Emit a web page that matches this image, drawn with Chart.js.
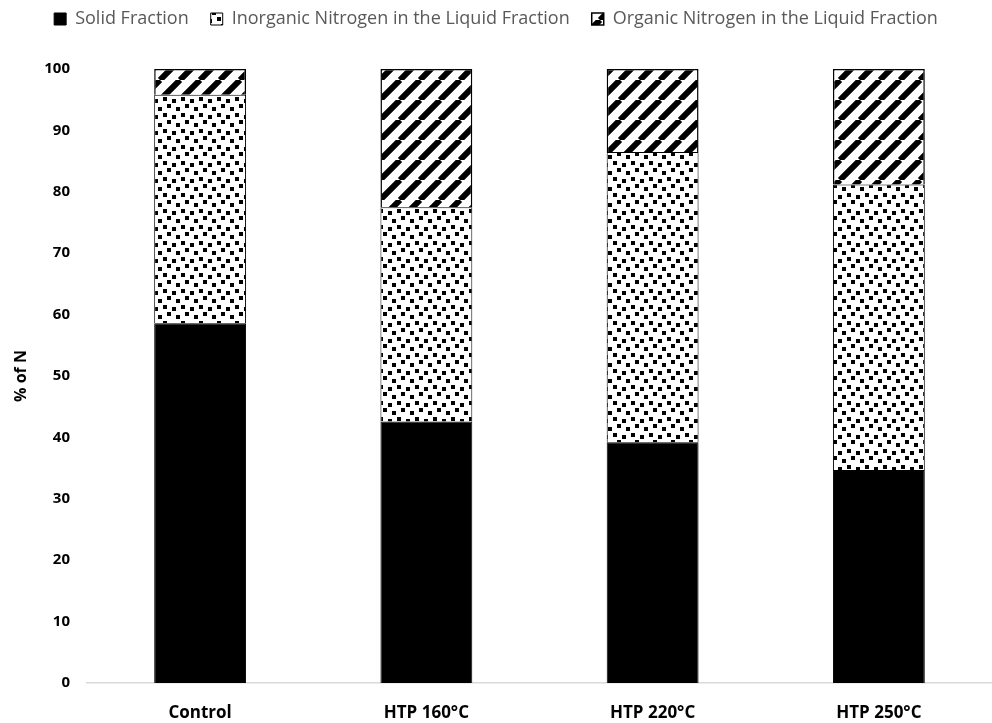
<!DOCTYPE html>
<html lang="en">
<head>
  <meta charset="UTF-8">
  <title>% of N</title>
  <script src="https://cdn.jsdelivr.net/npm/chart.js"></script>
  <style>
    * { margin: 0; padding: 0; }
    body { background: #fff; width: 992px; height: 723px; overflow: hidden; }
    #wrap { position: relative; width: 992px; height: 723px; }
  </style>
</head>
<body>
  <div id="wrap"><canvas id="chart"></canvas></div>
  <script>
    const categories = ['Control', 'HTP 160°C', 'HTP 220°C', 'HTP 250°C'];
    const solidFraction = [58.6, 42.6, 39.2, 34.7];
    const inorganicLiquid = [37.2, 34.9, 47.3, 46.5];
    const organicLiquid = [4.2, 22.5, 13.5, 18.8];

    // confetti-like pattern: small black squares on white
    function confetti() {
      const c = document.createElement('canvas');
      c.width = 18; c.height = 16;
      const g = c.getContext('2d');
      g.fillStyle = '#fff'; g.fillRect(0, 0, 18, 16);
      g.fillStyle = '#000';
      [[1, 1], [10, 3], [5, 8], [14, 11]].forEach(([x, y]) => g.fillRect(x, y, 4, 4));
      return g.createPattern(c, 'repeat');
    }
    // wide upward diagonal stripes
    function stripes() {
      const s = 20;
      const c = document.createElement('canvas');
      c.width = s; c.height = s;
      const g = c.getContext('2d');
      g.fillStyle = '#fff'; g.fillRect(0, 0, s, s);
      g.strokeStyle = '#000'; g.lineWidth = 6;
      g.beginPath();
      for (const o of [-s, 0, s]) { g.moveTo(o, s); g.lineTo(o + s, 0); }
      g.stroke();
      return g.createPattern(c, 'repeat');
    }

    // extra room under the legend
    const legendGap = {
      id: 'legendGap',
      beforeInit(chart) {
        const fit = chart.legend.fit;
        chart.legend.fit = function () { fit.call(this); this.height += 31; };
      }
    };

    const font = "'Open Sans', sans-serif";
    new Chart(document.getElementById('chart'), {
      type: 'bar',
      data: {
        labels: categories,
        datasets: [
          { label: 'Solid Fraction', data: solidFraction, backgroundColor: '#000', borderColor: '#000', borderWidth: 1 },
          { label: 'Inorganic Nitrogen in the Liquid Fraction', data: inorganicLiquid, backgroundColor: confetti(), borderColor: '#000', borderWidth: 1 },
          { label: 'Organic Nitrogen in the Liquid Fraction', data: organicLiquid, backgroundColor: stripes(), borderColor: '#000', borderWidth: 1.5 }
        ]
      },
      options: {
        responsive: true,
        maintainAspectRatio: false,
        animation: false,
        categoryPercentage: 1,
        barPercentage: 0.406,
        layout: { padding: { left: 0, right: 0, top: -12, bottom: 0 } },
        plugins: {
          tooltip: { enabled: false },
          legend: {
            position: 'top',
            labels: { boxWidth: 12, boxHeight: 12, padding: 22, color: '#595959', font: { family: font, size: 18 } }
          }
        },
        scales: {
          x: {
            stacked: true,
            grid: { display: false, drawTicks: false },
            border: { color: '#d9d9d9', width: 1.5 },
            ticks: { color: '#000', font: { family: font, size: 17, weight: 'bold' }, padding: 20 },
            afterFit(scale) { scale.height = 40; }
          },
          y: {
            stacked: true,
            min: 0, max: 100,
            grid: { display: false, drawTicks: false },
            border: { display: false },
            ticks: { stepSize: 10, color: '#000', font: { family: font, size: 15, weight: 'bold' }, padding: 17 },
            title: { display: true, text: '% of N', color: '#000', padding: { top: 12, bottom: 0 }, font: { family: font, size: 16, weight: 'bold' } },
            afterFit(scale) { scale.width = 87; }
          }
        }
      },
      plugins: [legendGap]
    });
  </script>
</body>
</html>
